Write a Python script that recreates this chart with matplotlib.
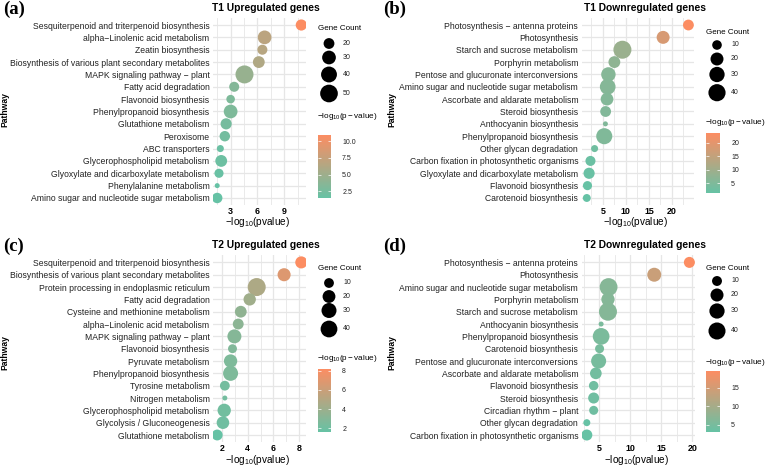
import numpy as np
import matplotlib as mpl
import matplotlib.pyplot as plt
from matplotlib.colors import LinearSegmentedColormap, Normalize
from matplotlib.ticker import MultipleLocator

plt.rcParams['font.family'] = ['Liberation Sans', 'DejaVu Sans']
plt.rcParams['mathtext.fontset'] = 'custom'
plt.rcParams['mathtext.rm'] = 'Liberation Sans'
plt.rcParams['mathtext.it'] = 'Liberation Sans:italic'
plt.rcParams['mathtext.bf'] = 'Liberation Sans:bold'

# ---- data ----
a_paths = ['Sesquiterpenoid and triterpenoid biosynthesis', 'alpha\u2212Linolenic acid metabolism',
           'Zeatin biosynthesis', 'Biosynthesis of various plant secondary metabolites',
           'MAPK signaling pathway \u2212 plant', 'Fatty acid degradation', 'Flavonoid biosynthesis',
           'Phenylpropanoid biosynthesis', 'Glutathione metabolism', 'Peroxisome', 'ABC transporters',
           'Glycerophospholipid metabolism', 'Glyoxylate and dicarboxylate metabolism',
           'Phenylalanine metabolism', 'Amino sugar and nucleotide sugar metabolism']
a_pval = [10.9, 6.8, 6.55, 6.15, 4.55, 3.4, 3.0, 3.0, 2.5, 2.35, 1.85, 1.95, 1.7, 1.5, 1.5]
a_count = [21, 30, 18, 23, 52, 18, 15, 30, 21, 19, 13, 23, 16, 12, 19]

b_paths = ['Photosynthesis \u2212 antenna proteins', 'Photosynthesis', 'Starch and sucrose metabolism',
           'Porphyrin metabolism', 'Pentose and glucuronate interconversions',
           'Amino sugar and nucleotide sugar metabolism', 'Ascorbate and aldarate metabolism',
           'Steroid biosynthesis', 'Anthocyanin biosynthesis', 'Phenylpropanoid biosynthesis',
           'Other glycan degradation', 'Carbon fixation in photosynthetic organisms',
           'Glyoxylate and dicarboxylate metabolism', 'Flavonoid biosynthesis', 'Carotenoid biosynthesis']
b_pval = [23.6, 18.1, 9.25, 7.5, 6.2, 6.05, 5.9, 5.6, 5.55, 5.3, 3.2, 2.3, 2.0, 1.65, 1.5]
b_count = [13, 20, 45, 16, 26, 32, 19, 13, 5, 34, 6, 11, 14, 9, 7]

c_paths = ['Sesquiterpenoid and triterpenoid biosynthesis', 'Biosynthesis of various plant secondary metabolites',
           'Protein processing in endoplasmic reticulum', 'Fatty acid degradation',
           'Cysteine and methionine metabolism', 'alpha\u2212Linolenic acid metabolism',
           'MAPK signaling pathway \u2212 plant', 'Flavonoid biosynthesis', 'Pyruvate metabolism',
           'Phenylpropanoid biosynthesis', 'Tyrosine metabolism', 'Nitrogen metabolism',
           'Glycerophospholipid metabolism', 'Glycolysis / Gluconeogenesis', 'Glutathione metabolism']
c_pval = [8.2, 6.85, 4.7, 4.15, 3.45, 3.25, 2.95, 2.8, 2.65, 2.65, 2.2, 2.2, 2.15, 2.05, 1.6]
c_count = [17, 21, 48, 18, 16, 13, 25, 8, 22, 30, 10, 4, 22, 19, 13]

d_paths = ['Photosynthesis \u2212 antenna proteins', 'Photosynthesis',
           'Amino sugar and nucleotide sugar metabolism', 'Porphyrin metabolism',
           'Starch and sucrose metabolism', 'Anthocyanin biosynthesis', 'Phenylpropanoid biosynthesis',
           'Carotenoid biosynthesis', 'Pentose and glucuronate interconversions',
           'Ascorbate and aldarate metabolism', 'Flavonoid biosynthesis', 'Steroid biosynthesis',
           'Circadian rhythm \u2212 plant', 'Other glycan degradation',
           'Carbon fixation in photosynthetic organisms']
d_pval = [19.5, 13.85, 6.5, 6.4, 6.4, 5.3, 5.3, 5.05, 4.9, 4.45, 4.1, 4.1, 4.1, 3.0, 3.0]
d_count = [13, 24, 45, 21, 46, 4, 38, 8, 29, 15, 9, 13, 8, 5, 13]

titles = ['T1 Upregulated genes', 'T1 Downregulated genes', 'T2 Upregulated genes', 'T2 Downregulated genes']
tags = ['(a)', '(b)', '(c)', '(d)']
x_ticks = [[3, 6, 9], [5, 10, 15, 20], [2, 4, 6, 8], [5, 10, 15, 20]]
x_minor = [1.5, 2.5, 1, 2.5]
size_breaks = [[20, 30, 40, 50], [10, 20, 30, 40], [10, 20, 30, 40], [10, 20, 30, 40]]
cb_ticks = [[2.5, 5.0, 7.5, 10.0], [5, 10, 15, 20], [2, 4, 6, 8], [5, 10, 15]]
cb_fmt = ['{:.1f}', '{:g}', '{:g}', '{:g}']

# ---- layout (pixels) ----
W, H = 767, 466
fig = plt.figure(figsize=(W / 100, H / 100), dpi=100)
ov = fig.add_axes([0, 0, 1, 1], zorder=5)
ov.set_xlim(0, W)
ov.set_ylim(H, 0)
ov.axis('off')


def box(x0, y0, x1, y1):
    return [x0 / W, 1 - y1 / H, (x1 - x0) / W, (y1 - y0) / H]


cmap = LinearSegmentedColormap.from_list('gc', ['#66C2A5', '#FC8D62'])


def diam(c, lo, hi):
    frac = np.clip((np.asarray(c, float) - lo) / (hi - lo), 0, 1)
    return 5 + 13 * np.sqrt(frac)


panels = [
    dict(paths=a_paths, pval=a_pval, count=a_count, ax=(213, 17.6, 305.5, 205.4), dx=0, dy=0,
         leg_x=318, cb_w=13),
    dict(paths=b_paths, pval=b_pval, count=b_count, ax=(581.7, 17.6, 693.5, 205.4), dx=380, dy=0,
         leg_x=706, cb_w=14),
    dict(paths=c_paths, pval=c_pval, count=c_count, ax=(213, 255, 305.5, 442.4), dx=0, dy=237,
         leg_x=318, cb_w=13),
    dict(paths=d_paths, pval=d_pval, count=d_count, ax=(581.7, 255, 694.5, 442.4), dx=380, dy=237,
         leg_x=706, cb_w=14),
]
size_ys = [[43.5, 57.5, 74.5, 93.5], [45, 59, 74.5, 92.7], [283, 296.5, 310.5, 329], [281, 295, 311, 331]]
size_title_y = [28.5, 32, 269, 268]
cb_title_y = [116, 123, 358, 362]
cb_span = [(135, 198), (133, 193), (369, 432), (371, 432)]
title_x = [266, 645, 266, 645]
path_lab = [(5, 110), (392, 110), (5, 353), (392, 353)]
xlab_y = [222, 222, 460, 460]

for i, p in enumerate(panels):
    n = len(p['paths'])
    ypos = np.arange(n)[::-1]
    pv = np.array(p['pval'])
    cnt = np.array(p['count'])
    lo, hi = cnt.min(), cnt.max()
    vmin, vmax = pv.min(), pv.max()
    norm = Normalize(vmin, vmax)

    ax = fig.add_axes(box(*p['ax']))
    ax.set_facecolor('white')
    for s in ax.spines.values():
        s.set_visible(False)
    d = diam(cnt, lo, hi)
    ax.scatter(pv, ypos, s=(d * 0.72) ** 2, c=pv, cmap=cmap, norm=norm, linewidths=0, zorder=3)
    span = vmax - vmin
    ax.set_xlim(vmin - 0.05 * span, vmax + 0.05 * span)
    ax.set_ylim(-0.6, n - 1 + 0.6)
    ax.set_yticks(ypos)
    ax.set_yticklabels(p['paths'], fontsize=6.2, color='#222222')
    ax.set_xticks(x_ticks[i])
    ax.set_xticklabels([str(t) for t in x_ticks[i]], fontsize=6.4, fontweight='bold')
    ax.xaxis.set_minor_locator(MultipleLocator(x_minor[i]))
    ax.tick_params(length=0, pad=2.5)
    ax.tick_params(axis='x', which='both', length=0, pad=1.5)
    ax.grid(True, which='major', color='#E6E6E6', lw=0.9, zorder=0)
    ax.grid(True, which='minor', axis='x', color='#E6E6E6', lw=0.6, zorder=0)
    ax.set_axisbelow(True)

    dx, dy = p['dx'], p['dy']
    # panel tag, title, axis labels
    ov.text(3 + dx, 9 + dy, tags[i], fontsize=13.5, fontweight='bold', family='Liberation Serif',
            ha='left', va='center')
    ov.text(title_x[i], 8 + dy, titles[i], fontsize=7.4, fontweight='bold', ha='center', va='center')
    ov.text(path_lab[i][0], path_lab[i][1], 'Pathway', fontsize=6.2, fontweight='bold',
            rotation=90, ha='center', va='center')
    xc = (p['ax'][0] + p['ax'][2]) / 2
    ov.text(xc - 2, xlab_y[i], r'$\mathrm{-log_{10}(pvalue)}$', fontsize=7.2, ha='center', va='center')

    # size legend
    lx = p['leg_x']
    ov.text(lx, size_title_y[i], 'Gene Count', fontsize=5.8, ha='left', va='center')
    br = np.array(size_breaks[i])
    bd = diam(br, lo, hi)
    ov.scatter([lx + 11] * len(br), size_ys[i], s=(bd * 0.72) ** 2, color='black', linewidths=0)
    for yy, b in zip(size_ys[i], br):
        ov.text(lx + 25, yy, str(b), fontsize=5, ha='left', va='center', color='#222222')

    # colour bar
    ov.text(lx - 1, cb_title_y[i], r'$\mathrm{-log_{10}(p-value)}$', fontsize=5.9, ha='left', va='center')
    y0, y1 = cb_span[i]
    cax = fig.add_axes(box(lx, y0, lx + p['cb_w'], y1))
    cb = mpl.colorbar.ColorbarBase(cax, cmap=cmap, norm=norm, orientation='vertical')
    cb.outline.set_visible(False)
    cb.set_ticks(cb_ticks[i])
    cb.set_ticklabels([cb_fmt[i].format(t) for t in cb_ticks[i]])
    cax.yaxis.set_ticks_position('both')
    cax.tick_params(length=2.5, width=0.5, color='white', direction='in', labelsize=5,
                    labelcolor='#222222', pad=8, labelright=True, labelleft=False)

fig.savefig('out.png', dpi=100, facecolor='white')
